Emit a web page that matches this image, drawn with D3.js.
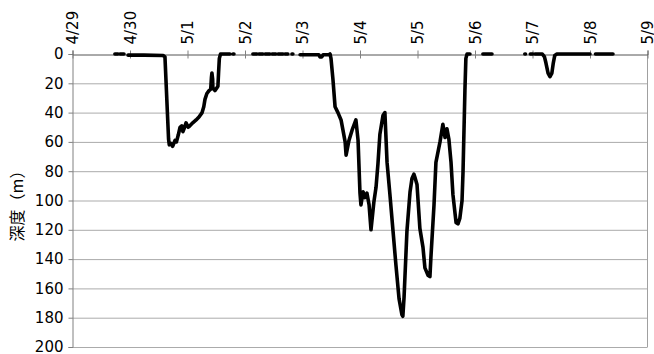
<!DOCTYPE html>
<html><head><meta charset="utf-8">
<script src="https://cdn.jsdelivr.net/npm/d3@7"></script>
<style>
html,body{margin:0;padding:0;background:#fff;}
svg{display:block;}
</style></head>
<body><svg id="c" width="654" height="354"></svg>
<script>
const dayLabels = ["4/29","4/30","5/1","5/2","5/3","5/4","5/5","5/6","5/7","5/8","5/9"];
const depthTicks = [0,20,40,60,80,100,120,140,160,180,200];
// hours since 4/29 00:00 ; null = gap in record
const hours = [
 17.9,19.2,null,
 20.0,21.7,null,
 23.4,30,38.0,38.8,
 40.3,40.6,41.3,42.0,43.0,43.6,44.4,45.1,45.8,46.3,47.0,47.6,48.5,49.2,50.4,51.8,53.0,54.3,55.0,55.5,56.3,57.2,57.9,58.2,58.4,58.7,58.8,59.7,60.5,60.9,61.2,61.5,62.0,65.9,null,
 67.2,67.6,null,
 75.5,77.2,null,78.0,79.7,null,80.6,82.6,null,83.5,85.1,null,86.0,88.1,null,88.9,90.1,null,91.8,92.2,null,
 95.2,99,103.0,103.5,104.2,104.8,107.3,107.7,
 108.1,108.9,109.8,111.0,112.3,113.1,114.0,114.4,115.6,116.9,118.5,119.4,120.2,120.6,121.5,122.3,123.1,124.0,124.8,126.0,126.9,127.7,128.5,129.8,130.6,131.5,132.7,134.0,135.2,136.5,137.7,138.1,138.6,139.8,141.1,141.9,142.7,143.1,144.0,145.2,146.5,147.3,148.6,149.4,149.8,151.1,151.9,153.6,154.8,155.7,156.5,157.3,158.2,159.0,160.3,161.1,161.9,162.8,163.2,164.0,164.4,164.9,166.1,null,
 171.5,175.3,null,
 189.0,189.3,null,
 191.3,192.4,null,
 193.2,196.3,197.2,197.8,198.7,199.5,200.3,200.9,201.5,202.4,216.2,null,
 218.5,225.8
];
const depthM = [
 0,0,null,
 0,0,null,
 0.8,0.8,1,2,
 58,62,61,63,59,60,55,50,49,53,50,47,50,49,47,45,43,40,36,31,27,25,24,16,13,17,23,25,23,22,12,3,0,0,null,
 0,0,null,
 0,0,null,0,0,null,0,0,null,0,0,null,0,0,null,0,0,null,0,0,null,
 0.5,0.5,0.5,2,2,0.5,0.5,0,
 3,17,36,40,45,52,60,69,59,52,45,59,95,103,94,98,95,103,120,101,91,75,55,42,40,74,96,121,144,167,178,179,166,121,94,85,82,84,89,119,132,146,151,152,139,103,74,60,48,57,51,58,74,96,115,116,112,100,81,25,3,0,0,null,
 0,0,null,
 0,0,null,
 0,0,null,
 0,0,2,6,13,15.5,13,6,1,0,0,null,
 0,0
];

const svg = d3.select("#c");
svg.append("rect").attr("width",654).attr("height",354).attr("fill","#fff");
const x = d3.scaleLinear().domain([0,10]).range([72,647]);
const y = d3.scaleLinear().domain([0,200]).range([54,347]);

// grid
svg.append("g").selectAll("line").data(depthTicks.filter(d=>d>0)).join("line")
  .attr("x1",x(0)).attr("x2",x(10)).attr("y1",d=>y(d)+0.5).attr("y2",d=>y(d)+0.5)
  .attr("stroke","#ababab").attr("stroke-width",1);
// right border
svg.append("line").attr("x1",x(10)+0.5).attr("x2",x(10)+0.5).attr("y1",y(0)).attr("y2",y(200)+0.5)
  .attr("stroke","#a0a0a0");

const font = "'DejaVu Sans', sans-serif";
// y axis
const ya = svg.append("g").attr("transform",`translate(${x(0)+0.5},0)`)
  .call(d3.axisLeft(y).tickValues(depthTicks).tickSize(4).tickPadding(5).tickFormat(d3.format("d")));
ya.select(".domain").attr("stroke","#808080");
ya.selectAll(".tick line").attr("stroke","#808080");
ya.selectAll("text").attr("font-family",font).attr("font-size",15).attr("fill","#000");

// x axis (top)
const xa = svg.append("g").attr("transform",`translate(0.5,${y(0)+0.5})`)
  .call(d3.axisTop(x).tickValues(d3.range(0,11)).tickSize(4).tickFormat(i=>dayLabels[i]));
xa.select(".domain").attr("stroke","#555");
xa.selectAll(".tick line").attr("stroke","#808080").attr("y1",-4).attr("y2",4);
xa.selectAll(".tick text")
  .attr("font-family",font).attr("font-size",15).attr("fill","#000")
  .attr("text-anchor","start").attr("dy","0.35em")
  .attr("transform","translate(0,-10) rotate(-90)").attr("y",0).attr("x",0);

// y label
svg.append("text").attr("transform",`translate(17,202) rotate(-90)`)
  .attr("text-anchor","middle").attr("dy","0.35em")
  .attr("font-family","'Noto Sans CJK JP', sans-serif").attr("font-size",16).attr("fill","#000")
  .text("深度（m）");

// data line
const pts = hours.map((h,i)=>({h, d: depthM[i]}));
const line = d3.line().defined(p=>p.h!==null && p.d!==null)
  .x(p=>x(p.h/24)).y(p=>y(p.d));
svg.append("path").datum(pts).attr("d",line)
  .attr("fill","none").attr("stroke","#000").attr("stroke-width",3.6)
  .attr("stroke-linejoin","round").attr("stroke-linecap","round");
</script></body></html>
